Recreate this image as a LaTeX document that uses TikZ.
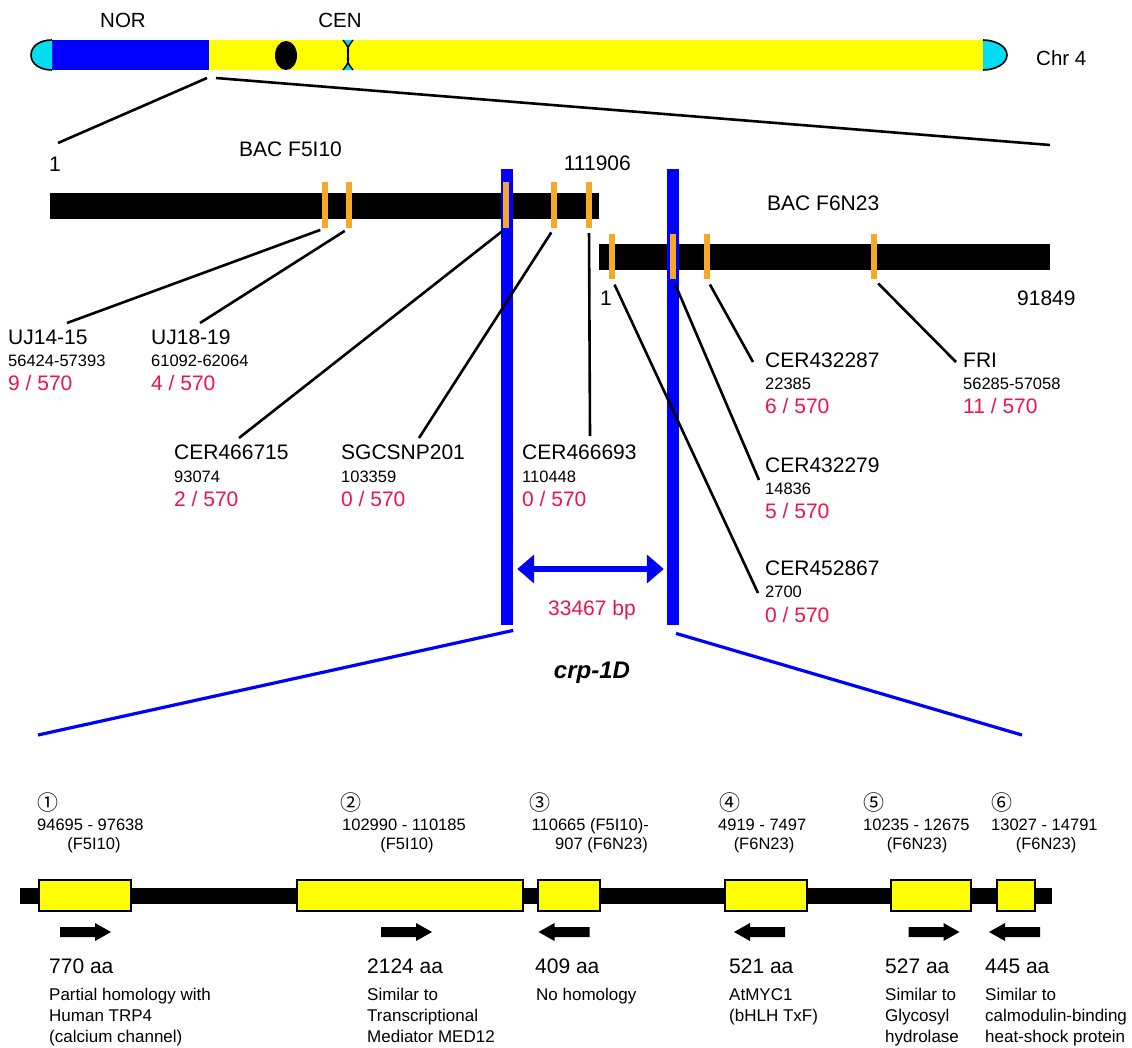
\documentclass[tikz,border=0pt]{standalone}
\usepackage{fontspec}
\setmainfont{Liberation Sans}
\newfontfamily\circfont{Noto Sans CJK JP}
\usetikzlibrary{arrows.meta}
\definecolor{cblue}{RGB}{0,0,255}
\definecolor{cyellow}{RGB}{255,255,0}
\definecolor{ccyan}{RGB}{0,220,240}
\definecolor{corange}{RGB}{246,168,40}
\definecolor{cred}{RGB}{238,20,70}
\begin{document}
\begin{tikzpicture}[x=1pt,y=-1pt,
  stxt/.style={inner sep=0pt, anchor=base west},
  sname/.style={stxt, font=\fontsize{21}{21}\selectfont},
  schr/.style={stxt, font=\fontsize{20.5}{20.5}\selectfont},
  spos/.style={stxt, font=\fontsize{16.5}{16.5}\selectfont},
  sratio/.style={sname, text=cred},
  sdesc/.style={stxt, font=\fontsize{17}{17}\selectfont},
  scirc/.style={stxt, font=\circfont\fontsize{21}{21}\selectfont},
  sbar/.style={fill=black, inner sep=0pt, anchor=north west, minimum height=25.5pt},
  sblue/.style={fill=cblue, inner sep=0pt, anchor=north, minimum width=12pt, minimum height=456pt},
  sorange/.style={fill=corange, inner sep=0pt, minimum width=5.5pt, minimum height=46pt},
  sconn/.style={line width=2.6pt, shorten <=5pt},
  sbline/.style={cblue, line width=3.2pt},
  sgene/.style={fill=cyellow, draw=black, line width=2.2pt, inner sep=0pt, minimum height=31pt},
  rarr/.pic={\fill (-25.5,-5) -- (9.5,-5) -- (9.5,-9) -- (25.5,0) -- (9.5,9) -- (9.5,5) -- (-25.5,5) -- cycle;},
  larr/.pic={\fill (25.5,-5) -- (-9.5,-5) -- (-9.5,-9) -- (-25.5,0) -- (-9.5,9) -- (-9.5,5) -- (25.5,5) -- cycle;}
]
\useasboundingbox (0,0) rectangle (1132,1047);

% ---------- chromosome ----------
\fill[cblue] (52,40) rectangle (209,70);
\fill[cyellow] (209,40) rectangle (983,70);
\filldraw[fill=ccyan, draw=black, line width=1.6pt] (52,40) .. controls (40,40) and (31,46) .. (31,55) .. controls (31,64) and (40,70) .. (52,70);
\filldraw[fill=ccyan, draw=black, line width=1.6pt] (983,40) .. controls (995,40) and (1007,46) .. (1007,55) .. controls (1007,64) and (995,70) .. (983,70);
\fill[black] (286,55.5) ellipse[x radius=11, y radius=14.5];
\fill[ccyan] (343,40) .. controls (349,48) .. (348,55) .. controls (349,62) .. (343,70) -- (353,70) .. controls (347,62) .. (348,55) .. controls (347,48) .. (353,40) -- cycle;
\draw[line width=1.4pt] (343,40) .. controls (349,48) .. (348,55) .. controls (349,62) .. (343,70);
\draw[line width=1.4pt] (353,40) .. controls (347,48) .. (348,55) .. controls (347,62) .. (353,70);
\node[schr, anchor=base] (nor) at (123,27) {NOR};
\node[schr, anchor=base] (cen) at (340,27) {CEN};
\node[schr] (chr) at (1036,65) {Chr 4};

\coordinate (chrzl) at (207,78);
\coordinate (chrzr) at (216,78);
\coordinate (bacL) at (58,143);
\coordinate (bacR) at (1050,145);
\draw[line width=2.6pt] (chrzl) -- (bacL);
\draw[line width=2.6pt] (chrzr) -- (bacR);

% ---------- BACs ----------
\node[sname] (bac1lbl) at (239,156) {BAC F5I10};
\node[sname] (bac1s) at (49,171) {1};
\node[sname, anchor=base east] (bac1e) at (631,170) {111906};
\node[sname] (bac2lbl) at (767,210) {BAC F6N23};
\node[sname] (bac2s) at (600,305) {1};
\node[sname] (bac2e) at (1017,305) {91849};

\node[sbar, minimum width=549pt] (bac1) at (50,193) {};
\node[sbar, minimum width=451pt] (bac2) at (599,244) {};

\node[sblue] (bb1) at (507,169) {};
\node[sblue] (bb2) at (673,169) {};

\node[sorange] (mk1) at (325,205) {};
\node[sorange] (mk2) at (349,205) {};
\node[sorange] (mk3) at (506,205) {};
\node[sorange] (mk4) at (554,205) {};
\node[sorange] (mk5) at (589,205) {};
\node[sorange, minimum height=45pt] (mk6) at (612,256.5) {};
\node[sorange, minimum height=45pt] (mk7) at (673,256.5) {};
\node[sorange, minimum height=45pt] (mk8) at (707,256.5) {};
\node[sorange, minimum height=45pt] (mk9) at (874,256.5) {};

% ---------- marker labels ----------
\node[sname] (l1) at (8,344) {UJ14-15};
\node[spos] (l1p) at (8,366) {56424-57393};
\node[sratio] (l1r) at (8,390) {9 / 570};
\node[sname] (l2) at (151,344) {UJ18-19};
\node[spos] (l2p) at (151,366) {61092-62064};
\node[sratio] (l2r) at (151,390) {4 / 570};
\node[sname] (l3) at (174,459) {CER466715};
\node[spos] (l3p) at (174,482) {93074};
\node[sratio] (l3r) at (174,506) {2 / 570};
\node[sname] (l4) at (341,459) {SGCSNP201};
\node[spos] (l4p) at (341,482) {103359};
\node[sratio] (l4r) at (341,506) {0 / 570};
\node[sname] (l5) at (522,459) {CER466693};
\node[spos] (l5p) at (522,482) {110448};
\node[sratio] (l5r) at (522,506) {0 / 570};
\node[sname] (l6) at (765,367) {CER432287};
\node[spos] (l6p) at (765,389) {22385};
\node[sratio] (l6r) at (765,413) {6 / 570};
\node[sname] (l7) at (963,367) {FRI};
\node[spos] (l7p) at (963,389) {56285-57058};
\node[sratio] (l7r) at (963,413) {11 / 570};
\node[sname] (l8) at (765,472) {CER432279};
\node[spos] (l8p) at (765,494) {14836};
\node[sratio] (l8r) at (765,518) {5 / 570};
\node[sname] (l9) at (765,575) {CER452867};
\node[spos] (l9p) at (765,597) {2700};
\node[sratio] (l9r) at (765,622) {0 / 570};

\coordinate (e1) at (67,323);
\coordinate (e2) at (200,323);
\coordinate (e3) at (239,438);
\coordinate (e4) at (419,438);
\coordinate (e5) at (590,436);
\coordinate (e6) at (753,362);
\coordinate (e7) at (956,362);
\coordinate (e8) at (759,480);
\coordinate (e9) at (758,593);
\draw[sconn] (mk1.south) -- (e1);
\draw[sconn] (mk2.south) -- (e2);
\draw[sconn] (mk3.south) -- (e3);
\draw[sconn] (mk4.south) -- (e4);
\draw[sconn] (mk5.south) -- (e5);
\draw[sconn, shorten <=6pt] (mk8.south) -- (e6);
\draw[sconn, shorten <=6pt] (mk9.south) -- (e7);
\draw[sconn, shorten <=6pt] (mk7.south) -- (e8);
\draw[sconn, shorten <=6pt] (mk6.south) -- (e9);

% ---------- interval ----------
\coordinate (ay) at (0,569);
\draw[cblue, line width=6pt, {Triangle[length=17pt,width=28pt]}-{Triangle[length=17pt,width=28pt]}, shorten <=4pt, shorten >=3pt] (bb1.east |- ay) -- (bb2.west |- ay);
\node[sname, anchor=base, text=cred] (bp) at (592,615) {33467 bp};
\node[stxt, anchor=base, font=\fontsize{24}{24}\selectfont\bfseries\itshape] (crp) at (592,678) {crp-1D};

\coordinate (tl) at (38,735);
\coordinate (tr) at (1022,735);
\draw[sbline] ([yshift=-5pt]bb1.south east) -- (tl);
\draw[sbline] ([xshift=3pt,yshift=-8pt]bb2.south) -- (tr);

% ---------- gene track ----------
\node[fill=black, inner sep=0pt, anchor=west, minimum width=1032pt, minimum height=16pt] (track) at (20,896) {};
\node[sgene, minimum width=92pt] (g1) at (85,895.5) {};
\node[sgene, minimum width=226pt] (g2) at (410,895.5) {};
\node[sgene, minimum width=62pt] (g3) at (569,895.5) {};
\node[sgene, minimum width=82pt] (g4) at (766,895.5) {};
\node[sgene, minimum width=80pt] (g5) at (931,895.5) {};
\node[sgene, minimum width=38pt] (g6) at (1016,895.5) {};

\pic at (85.5,932) {rarr};
\pic at (406.5,932) {rarr};
\pic at (564,932) {larr};
\pic at (759.5,932) {larr};
\pic at (934,932) {rarr};
\pic at (1014.5,932) {larr};

\node[scirc] (n1) at (37,810) {①};
\node[scirc] (n2) at (340,810) {②};
\node[scirc] (n3) at (529,810) {③};
\node[scirc] (n4) at (719,810) {④};
\node[scirc] (n5) at (863,810) {⑤};
\node[scirc] (n6) at (991,810) {⑥};

\node[spos] (p1) at (37,830) {94695 - 97638};
\node[spos, anchor=base] (f1) at (94,849) {(F5I10)};
\node[spos] (p2) at (342,830) {102990 - 110185};
\node[spos, anchor=base] (f2) at (407,849) {(F5I10)};
\node[spos, anchor=base east] (p3) at (649,830) {110665 (F5I10)-};
\node[spos, anchor=base east] (f3) at (648,849) {907 (F6N23)};
\node[spos] (p4) at (718,830) {4919 - 7497};
\node[spos, anchor=base] (f4) at (764,849) {(F6N23)};
\node[spos] (p5) at (863,830) {10235 - 12675};
\node[spos, anchor=base] (f5) at (917,849) {(F6N23)};
\node[spos] (p6) at (991,830) {13027 - 14791};
\node[spos, anchor=base] (f6) at (1046,849) {(F6N23)};

\node[sname] (a1) at (49,973) {770 aa};
\node[sname] (a2) at (367,973) {2124 aa};
\node[sname] (a3) at (535,973) {409 aa};
\node[sname] (a4) at (729,973) {521 aa};
\node[sname] (a5) at (885,973) {527 aa};
\node[sname] (a6) at (985,973) {445 aa};

\node[sdesc] (d1a) at (49,1000) {Partial homology with};
\node[sdesc] (d1b) at (49,1021) {Human TRP4};
\node[sdesc] (d1c) at (49,1042) {(calcium channel)};
\node[sdesc] (d2a) at (367,1000) {Similar to};
\node[sdesc] (d2b) at (367,1021) {Transcriptional};
\node[sdesc] (d2c) at (367,1042) {Mediator MED12};
\node[sdesc] (d3a) at (536,1000) {No homology};
\node[sdesc] (d4a) at (729,1000) {AtMYC1};
\node[sdesc] (d4b) at (729,1021) {(bHLH TxF)};
\node[sdesc] (d5a) at (885,1000) {Similar to};
\node[sdesc] (d5b) at (885,1021) {Glycosyl};
\node[sdesc] (d5c) at (885,1042) {hydrolase};
\node[sdesc] (d6a) at (985,1000) {Similar to};
\node[sdesc] (d6b) at (985,1021) {calmodulin-binding};
\node[sdesc] (d6c) at (985,1042) {heat-shock protein};
\end{tikzpicture}
\end{document}
